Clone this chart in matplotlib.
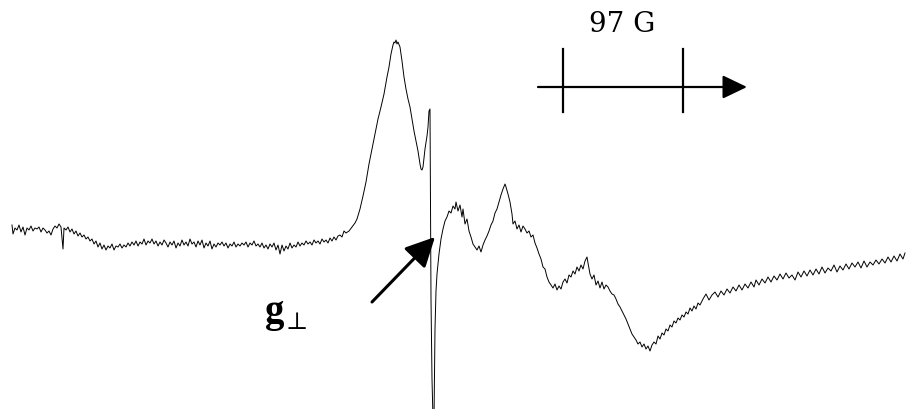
import matplotlib
matplotlib.use("Agg")
import matplotlib.pyplot as plt

# EPR trace (field position, signal), signal in
# picture rows so the y axis is inverted below.
field = [12, 13, 15, 17, 19, 21, 23, 25, 27, 29, 31, 33, 35, 37, 39, 41, 43, 45,
         47, 49, 51, 53, 55, 57, 59, 61, 63, 64, 66, 68, 70, 72, 74, 76, 78, 80,
         82, 84, 86, 88, 90, 92, 94, 96, 98, 100, 102, 104, 106, 108, 110, 112,
         114, 116, 118, 120, 122, 124, 126, 128, 130, 132, 134, 136, 138, 140,
         142, 144, 146, 148, 150, 152, 154, 156, 158, 160, 162, 164, 166, 168,
         170, 172, 174, 176, 178, 180, 182, 184, 186, 188, 190, 192, 194, 196,
         198, 200, 202, 204, 206, 208, 210, 212, 214, 216, 218, 220, 222, 224,
         226, 228, 230, 232, 234, 236, 238, 240, 242, 244, 246, 248, 250, 252,
         254, 256, 258, 260, 262, 264, 266, 268, 270, 272, 274, 276, 278, 280,
         282, 284, 286, 288, 290, 292, 294, 296, 298, 300, 302, 304, 306, 308,
         310, 312, 314, 316, 318, 320, 322, 324, 326, 328, 330, 332, 334, 336,
         338, 340, 342, 344,
         346, 349, 352, 355, 357, 360, 363, 366, 369, 372, 375, 378, 381, 384,
         387, 389, 391, 393, 394, 395, 396, 397, 398, 400, 402, 404, 406, 408,
         410, 412, 414, 416, 418, 420, 421, 422, 423, 425, 427, 428, 429, 430,
         430.5, 431, 432, 433, 434, 435, 436, 437, 439, 441, 443, 445, 447, 449,
         451, 453, 455, 456, 458, 460, 462, 463, 465, 467, 469, 471, 473, 475,
         477, 479, 481, 483, 485, 487, 489, 491, 493, 495, 497, 499, 501, 503,
         505, 506, 508, 510, 512, 513, 515, 517, 519, 521, 523, 525, 527, 529,
         531, 533, 535, 537, 539, 541, 543, 545, 547, 549, 551, 553, 555, 557,
         559, 561, 563, 565, 567, 569, 571, 573, 575, 577, 579, 581, 583, 585,
         587, 588, 590, 592, 594, 596, 598, 600, 602, 604, 606, 608, 610, 612,
         614, 616, 618, 620, 622, 624, 626, 628, 630, 632, 634, 636, 638, 640,
         642, 644, 646, 648, 650, 652, 654, 656, 658, 660, 662, 664, 666, 668,
         670, 672, 674, 676, 678, 680, 682, 684, 686, 688, 690, 692, 694, 696,
         698, 700,
         703, 706, 709, 712, 715, 718, 721, 724, 727, 730, 733, 736, 739, 742,
         745, 748, 751, 754, 756, 759, 762, 765, 768, 771, 774, 777, 780, 783,
         786, 789, 792, 795, 798, 801, 804, 807, 810, 813, 816, 819, 822, 825,
         828, 831, 834, 837, 840, 843, 846, 849, 852, 855, 858, 861, 864, 867,
         870, 873, 876, 879, 882, 885, 888, 891, 894, 897, 900, 903, 905]

signal = [226, 235, 229, 231, 226, 233, 228, 236, 229, 231, 227, 232, 229, 230,
          228, 233, 229, 231, 234, 232, 236, 230, 227, 229, 225, 228, 250, 229,
          231, 228, 233, 230, 235, 232, 237, 234, 238, 236, 240, 238, 242, 240,
          245, 242, 248, 244, 250, 246, 251, 247, 249, 245, 251, 247, 248, 245,
          249, 246, 248, 244, 247, 243, 246, 242, 247, 243, 245, 240, 246, 242,
          244, 240, 245, 242, 247, 243, 246, 241, 244, 248, 243, 246, 242, 249,
          244, 247, 241, 246, 243, 247, 240, 245, 243, 248, 242, 246, 241, 249,
          244, 247, 242, 250, 245, 248, 244, 246, 243, 247, 244, 249, 245, 247,
          243, 248, 245, 247, 244, 246, 243, 248, 244, 246, 242, 247, 245, 248,
          244, 249, 246, 250, 245, 248, 244, 251, 246, 255, 246, 252, 247, 250,
          244, 249, 246, 248, 243, 247, 244, 246, 242, 245, 243, 246, 241, 244,
          242, 245, 240, 243, 241, 244, 239, 242, 238, 241, 237, 236, 238, 232,
          234, 232, 228, 224, 220, 210, 197, 183, 165, 150, 135, 120, 108, 95,
          78, 68, 55, 46, 43, 44, 41, 45, 43, 48, 62, 78, 90, 100,
          108, 120, 132, 142, 152, 165, 170, 171, 168, 150, 137, 128, 112, 110,
          200, 300, 380, 420, 420, 330, 292, 275, 255, 240, 230, 222, 218, 212,
          214, 207, 210, 203, 212, 206, 218, 210, 225, 220, 232, 238, 245, 248,
          251, 247, 253, 246, 241, 237, 232, 226, 222, 214, 210, 203, 196, 190,
          185, 188, 195, 203, 215, 225, 222, 230, 226, 233, 227, 230, 234, 232,
          238, 236, 244, 249, 255, 260, 268, 270, 278, 283, 286, 289, 285, 291,
          287, 290, 283, 280, 284, 276, 278, 272, 275, 268, 272, 266, 270, 262,
          258, 264, 275, 280, 276, 286, 282, 289, 283, 290, 286, 288, 292, 295,
          296, 300, 305, 308, 312, 316, 320, 325, 330, 335, 338, 341, 345, 343,
          348, 345, 350, 347, 352, 346, 343, 345, 337, 340, 334, 336, 330, 332,
          326, 328, 322, 324, 319, 321, 316, 318, 313, 315, 309, 312, 307, 310,
          304, 306,
          300, 295, 301, 296, 293, 298, 292, 296, 290, 294, 288, 292, 286, 291,
          285, 289, 283, 288, 281, 286, 280, 284, 278, 283, 277, 281, 275, 280,
          274, 279, 276, 281, 273, 278, 272, 277, 271, 276, 270, 275, 268, 274,
          269, 272, 266, 273, 267, 271, 265, 270, 264, 268, 263, 269, 262, 268,
          263, 266, 261, 265, 260, 264, 258, 263, 257, 262, 255, 260, 254]

scale_label = "97 G"
peak_label = "g"
sub_label = "\u22a5"

fig = plt.figure(figsize=(9.08, 4.10), dpi=100)
ax = fig.add_axes([0, 0, 1, 1])
ax.plot(field, signal, color="black", lw=0.7)
ax.set_xlim(0, 908)
ax.set_ylim(410, 0)
ax.axis("off")

# scale bar with arrow
ax.annotate("", xy=(747, 88), xytext=(538, 88),
            arrowprops=dict(arrowstyle="-|>,head_length=1.0,head_width=0.48",
                            lw=1.6, color="black", mutation_scale=15,
                            shrinkA=0, shrinkB=0))
ax.plot([563, 563], [50, 113], color="black", lw=1.6)
ax.plot([683, 683], [50, 113], color="black", lw=1.6)
ax.text(622, 25, scale_label, ha="center", va="center", fontsize=20,
        family=["DejaVu Serif"])

# pointer to g-perp
ax.annotate("", xy=(435, 238), xytext=(372, 303),
            arrowprops=dict(arrowstyle="-|>,head_length=1.0,head_width=0.5",
                            lw=2.2, color="black", mutation_scale=18,
                            shrinkA=0, shrinkB=0))
ax.text(265, 322, peak_label, ha="left", va="baseline", fontsize=28,
        fontweight="bold", family=["Liberation Serif", "DejaVu Serif"])
ax.text(286, 329, sub_label, ha="left", va="baseline", fontsize=17,
        family=["DejaVu Serif"])

fig.savefig("out.png", dpi=100)
